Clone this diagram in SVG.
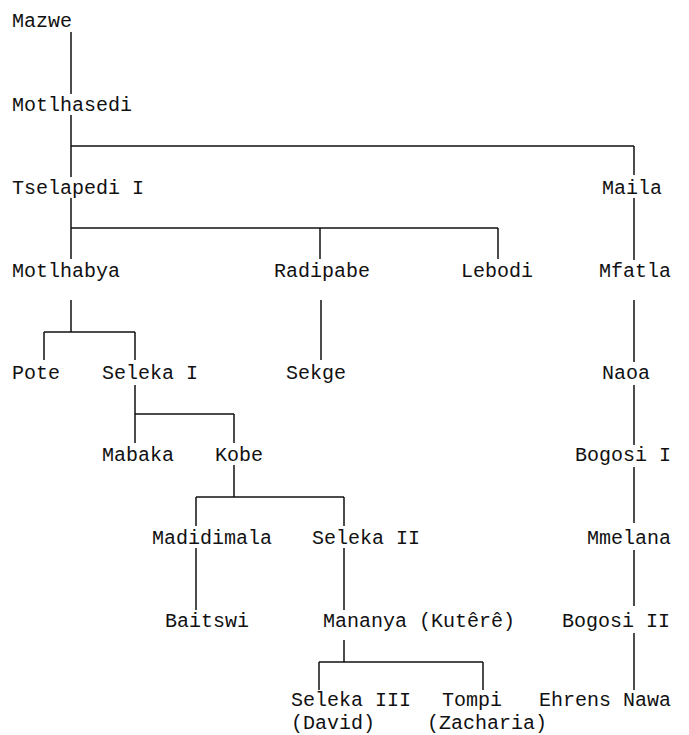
<svg xmlns="http://www.w3.org/2000/svg" width="689" height="735" viewBox="0 0 689 735">
<style>
text{font-family:"Liberation Mono","Courier New",monospace;font-size:20px;fill:#111}
.c line{stroke:#111;stroke-width:1.5;fill:none}
</style>
<rect width="689" height="735" fill="#fff"/>
<g class="c" id="connectors">
<line x1="71" y1="32" x2="71" y2="94"/>
<line x1="71" y1="115" x2="71" y2="177"/>
<line x1="71" y1="146" x2="634" y2="146"/>
<line x1="634" y1="146" x2="634" y2="175"/>
<line x1="71" y1="198" x2="71" y2="259"/>
<line x1="71" y1="228" x2="498" y2="228"/>
<line x1="320" y1="228" x2="320" y2="259"/>
<line x1="498" y1="228" x2="498" y2="259"/>
<line x1="634" y1="198" x2="634" y2="260"/>
<line x1="634" y1="300" x2="634" y2="362"/>
<line x1="634" y1="385" x2="634" y2="445"/>
<line x1="634" y1="467" x2="634" y2="523"/>
<line x1="634" y1="550" x2="634" y2="606"/>
<line x1="634" y1="633" x2="634" y2="690"/>
<line x1="71" y1="300" x2="71" y2="332"/>
<line x1="44" y1="332" x2="135" y2="332"/>
<line x1="44" y1="332" x2="44" y2="360"/>
<line x1="135" y1="332" x2="135" y2="360"/>
<line x1="321" y1="300" x2="321" y2="360"/>
<line x1="135" y1="385" x2="135" y2="443"/>
<line x1="135" y1="414" x2="234" y2="414"/>
<line x1="234" y1="414" x2="234" y2="443"/>
<line x1="234" y1="465" x2="234" y2="497"/>
<line x1="196" y1="497" x2="344" y2="497"/>
<line x1="196" y1="497" x2="196" y2="526"/>
<line x1="344" y1="497" x2="344" y2="526"/>
<line x1="196" y1="548" x2="196" y2="610"/>
<line x1="344" y1="548" x2="344" y2="610"/>
<line x1="344" y1="640" x2="344" y2="662"/>
<line x1="319" y1="662" x2="483" y2="662"/>
<line x1="319" y1="662" x2="319" y2="690"/>
<line x1="483" y1="662" x2="483" y2="690"/>
</g>
<g id="mazwe"><text x="12" y="27">Mazwe</text></g>
<g id="motlhasedi"><text x="12" y="111">Motlhasedi</text></g>
<g id="tselapedi1"><text x="12" y="194">Tselapedi I</text></g>
<g id="maila"><text x="602" y="194">Maila</text></g>
<g id="motlhabya"><text x="12" y="277">Motlhabya</text></g>
<g id="radipabe"><text x="274" y="277">Radipabe</text></g>
<g id="lebodi"><text x="461" y="277">Lebodi</text></g>
<g id="mfatla"><text x="599" y="277">Mfatla</text></g>
<g id="pote"><text x="12" y="379">Pote</text></g>
<g id="seleka1"><text x="102" y="379">Seleka I</text></g>
<g id="sekge"><text x="286" y="379">Sekge</text></g>
<g id="naoa"><text x="602" y="379">Naoa</text></g>
<g id="mabaka"><text x="102" y="461">Mabaka</text></g>
<g id="kobe"><text x="215" y="461">Kobe</text></g>
<g id="bogosi1"><text x="575" y="461">Bogosi I</text></g>
<g id="madidimala"><text x="152" y="544">Madidimala</text></g>
<g id="seleka2"><text x="312" y="544">Seleka II</text></g>
<g id="mmelana"><text x="587" y="544">Mmelana</text></g>
<g id="baitswi"><text x="165" y="627">Baitswi</text></g>
<g id="mananya"><text x="323" y="627">Mananya (Kutêrê)</text></g>
<g id="bogosi2"><text x="562" y="627">Bogosi II</text></g>
<g id="seleka3"><text x="291" y="706">Seleka III</text><text x="291" y="729">(David)</text></g>
<g id="tompi"><text x="442" y="706">Tompi</text><text x="427" y="729">(Zacharia)</text></g>
<g id="ehrens"><text x="539" y="706">Ehrens Nawa</text></g>
</svg>
